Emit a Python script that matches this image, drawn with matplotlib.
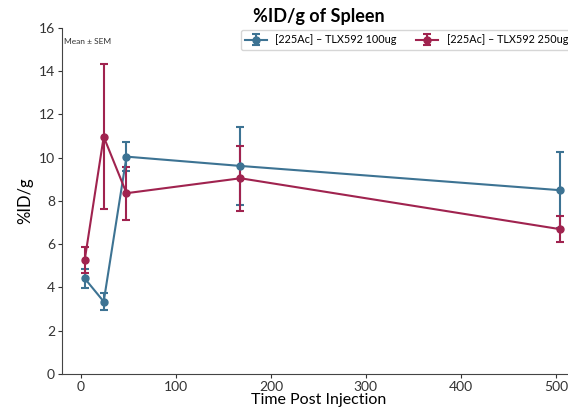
import matplotlib.pyplot as plt
plt.switch_backend('agg')

plt.rcParams['font.family'] = ['Lato', 'DejaVu Sans']

time_h = [4, 24, 48, 168, 504]
mean_100 = [4.42, 3.35, 10.05, 9.62, 8.5]
sem_100 = [0.43, 0.38, 0.66, 1.8, 1.75]
mean_250 = [5.27, 10.97, 8.36, 9.05, 6.7]
sem_250 = [0.6, 3.35, 1.22, 1.5, 0.6]
labels = ['[225Ac] \u2013 TLX592 100ug', '[225Ac] \u2013 TLX592 250ug']
colors = ['#3d7393', '#a0234f']

fig = plt.figure(figsize=(5.68, 4.11), dpi=100)
ax = fig.add_axes([0.109, 0.09, 0.903, 0.842])

for m, s, lab, c in zip([mean_100, mean_250], [sem_100, sem_250], labels, colors):
    ax.errorbar(time_h, m, yerr=s, color=c, label=lab, marker='o', markersize=5,
                linewidth=1.5, elinewidth=1.5, capsize=3, capthick=1.5)

ax.set_xlim(-20, 520)
ax.set_ylim(0, 16)
ax.set_xticks(range(0, 501, 100))
ax.set_yticks(range(0, 17, 2))
ax.spines['top'].set_visible(False)
ax.spines['right'].set_visible(False)
for sp in ['left', 'bottom']:
    ax.spines[sp].set_color('#444444')
ax.tick_params(labelsize=10, colors='#333333', length=3, pad=2)

ax.set_xlabel('Time Post Injection', fontsize=11.5, labelpad=0)
ax.set_ylabel('%ID/g', fontsize=12)
ax.set_title('%ID/g of Spleen', fontsize=13, fontweight='bold', pad=4)
ax.text(0.005, 0.955, 'Mean \u00b1 SEM', transform=ax.transAxes, fontsize=6, color='#333333')
ax.legend(loc='upper right', ncol=2, fontsize=7.8, frameon=True, edgecolor='#cccccc',
          bbox_to_anchor=(1.0, 1.0), borderaxespad=0.2, columnspacing=1.8)

plt.savefig('out.png', dpi=100)
